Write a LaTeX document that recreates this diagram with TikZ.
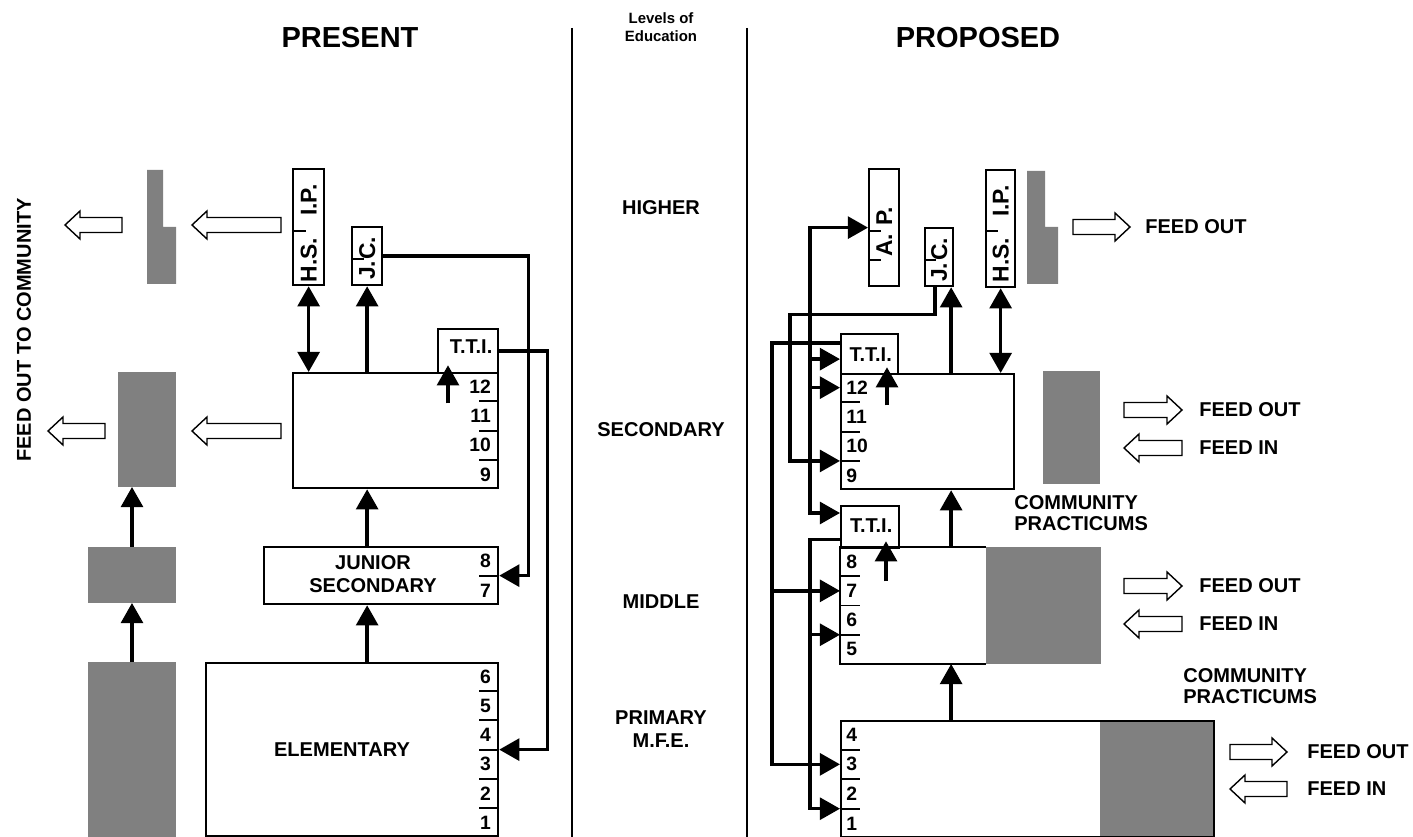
\documentclass[tikz,border=0pt]{standalone}
\usepackage{fontspec}
\setmainfont{Liberation Sans}
\usetikzlibrary{arrows.meta,positioning,calc}
\tikzset{
  headline/.style={font=\bfseries\fontsize{16.5}{18}\selectfont,inner sep=0pt},
  smallhead/.style={font=\bfseries\fontsize{8.5}{10.2}\selectfont,align=center,inner sep=0pt},
  eduname/.style={font=\bfseries\fontsize{11.4}{13}\selectfont,align=center,inner sep=0pt},
  sidetext/.style={font=\bfseries\fontsize{11.4}{12}\selectfont,align=left,inner sep=0pt},
  unitbox/.style={draw,line width=1.3pt,inner sep=0pt,anchor=north west},
  halftone/.style={fill=black!50},
  shadebox/.style={halftone,inner sep=0pt,outer sep=0pt,anchor=north west},
  gradenum/.style={font=\bfseries\fontsize{11}{12}\selectfont,inner sep=0pt},
  gradetick/.style={line width=1.1pt},
  sidelabel/.style={font=\bfseries\fontsize{13}{14}\selectfont,rotate=90,inner sep=0pt},
  flow/.style={line width=1.9pt,-{Triangle[length=11.5pt,width=12.5pt]}},
  twoway/.style={line width=1.9pt,{Triangle[length=11.5pt,width=12.5pt]}-{Triangle[length=11.5pt,width=12.5pt]}},
  feedarrow/.style={draw,line width=0.8pt,fill=white},
  colrule/.style={line width=1.6pt}
}

\begin{document}
\begin{tikzpicture}[x=0.02cm,y=-0.02cm]
  \useasboundingbox (0,0) rectangle (1413,837);

  % headings and column rules
  \node[headline] (present) at (350,38) {PRESENT};
  \node[headline] (proposed) at (978,38) {PROPOSED};
  \node[smallhead] (levels) at (661,27) {Levels of\\Education};
  \draw[colrule] (572,28) -- (572,837);
  \draw[colrule] (747,28) -- (747,837);
  \node[eduname] (higher) at (661,208) {HIGHER};
  \node[eduname] (secondary) at (661,430) {SECONDARY};
  \node[eduname] (middle) at (661,602) {MIDDLE};
  \node[eduname] (primary) at (661,729) {PRIMARY\\M.F.E.};

  % ---- present ----
  \node[sidetext,rotate=90] (feedcomm) at (24,330) {FEED OUT TO COMMUNITY};
  \fill[halftone] (147,170) -- (163,170) -- (163,227) -- (176,227) -- (176,284) -- (147,284) -- cycle;
  \node[shadebox,minimum width=1.16cm,minimum height=2.3cm] (pshU) at (118,372) {};
  \node[shadebox,minimum width=1.76cm,minimum height=1.12cm] (pshM) at (88,547) {};
  \node[shadebox,minimum width=1.76cm,minimum height=3.5cm] (pshB) at (88,662) {};
  \draw[flow] (pshB.north) -- (pshM.south);
  \draw[flow] (pshM.north) -- (pshM.north |- pshU.south);

  \node[unitbox,minimum width=0.62cm,minimum height=2.32cm] (phsip) at (292,168) {};
  \node[unitbox,minimum width=0.6cm,minimum height=1.16cm] (pjc) at (351,226) {};
  \node[unitbox,minimum width=1.2cm,minimum height=0.88cm] (ptti) at (437,328) {};
  \node[unitbox,minimum width=4.1cm,minimum height=2.3cm] (psec) at (292,372) {};
  \node[unitbox,minimum width=4.68cm,minimum height=1.14cm] (pjun) at (263,546) {};
  \node[unitbox,minimum width=5.84cm,minimum height=3.46cm] (pele) at (205,662) {};

  \node[sidelabel] (phsipH) at ($(phsip.south)+(0,-26)$) {H.S.};
  \node[sidelabel] (phsipI) at ($(phsip.south)+(0,-86)$) {I.P.};
  \draw[gradetick] ($(phsip.south west)+(0,-55)$) -- +(14,0);
  \node[sidelabel] (pjcJ) at ($(pjc.south)+(0,-16)$) {J.};
  \node[sidelabel] (pjcC) at ($(pjc.south)+(0,-38)$) {C.};
  \draw[gradetick] ($(pjc.south west)+(0,-27)$) -- +(13,0);
  \node[sidetext] (pttiname) at ($(ptti.center)+(3,-5)$) {T.T.I.};
  \node[eduname] (pjunname) at (373,574) {JUNIOR\\SECONDARY};
  \node[eduname] (pelename) at (342,750) {ELEMENTARY};

  \foreach \g [count=\i] in {12,11,10,9}
    \node[gradenum,anchor=east] (psec\g) at ($(psec.north east)!{(\i-0.5)/4}!(psec.south east)+(-8,0)$) {\g};
  \foreach \i in {1,2,3}
    \draw[gradetick] ($(psec.north east)!{\i/4}!(psec.south east)$) -- +(-20,0);
  \foreach \g [count=\i] in {8,7}
    \node[gradenum,anchor=east] (pjun\g) at ($(pjun.north east)!{(\i-0.5)/2}!(pjun.south east)+(-8,0)$) {\g};
  \draw[gradetick] ($(pjun.north east)!0.5!(pjun.south east)$) -- +(-20,0);
  \foreach \g [count=\i] in {6,5,4,3,2,1}
    \node[gradenum,anchor=east] (pele\g) at ($(pele.north east)!{(\i-0.5)/6}!(pele.south east)+(-8,0)$) {\g};
  \foreach \i in {1,...,5}
    \draw[gradetick] ($(pele.north east)!{\i/6}!(pele.south east)$) -- +(-20,0);

  \coordinate (pj87) at ($(pjun.north east)!0.5!(pjun.south east)$);
  \coordinate (pe43) at ($(pele.north east)!0.5!(pele.south east)$);
  \draw[twoway] (phsip.south) -- (phsip.south |- psec.north);
  \draw[flow] (pjc.south |- psec.north) -- (pjc.south);
  \draw[flow] (pjc.east) -| ($(pj87)+(29,0)$) -- (pj87);
  \draw[flow] (ptti.east) -| ($(pe43)+(48,0)$) -- (pe43);
  \draw[flow] ($(ptti.south west)+(11,29)$) -- ($(ptti.south west)+(11,-9)$);
  \draw[flow] (pjun.north -| pjc.south) -- (psec.south -| pjc.south);
  \draw[flow] (pele.north -| pjc.south) -- (pjun.south -| pjc.south);

  % ---- proposed ----
  \fill[halftone] (1027,171) -- (1045,171) -- (1045,227) -- (1058,227) -- (1058,284) -- (1027,284) -- cycle;
  \node[shadebox,minimum width=1.14cm,minimum height=2.26cm] (shS) at (1043,371) {};
  \node[shadebox,minimum width=2.3cm,minimum height=2.34cm] (shM) at (986,547) {};
  \node[shadebox,minimum width=2.26cm,minimum height=2.32cm] (shP) at (1100,720) {};

  \node[unitbox,minimum width=0.6cm,minimum height=2.34cm] (ap) at (868,168) {};
  \node[unitbox,minimum width=0.56cm,minimum height=1.16cm] (jc) at (924,227) {};
  \node[unitbox,minimum width=0.58cm,minimum height=2.34cm] (hsip) at (985,169) {};
  \node[unitbox,minimum width=1.14cm,minimum height=0.8cm] (tti1) at (840,333) {};
  \node[unitbox,minimum width=3.46cm,minimum height=2.3cm] (sec) at (840,373) {};
  \node[unitbox,minimum width=1.16cm,minimum height=0.84cm] (tti2) at (840,505) {};
  \node[unitbox,draw=none,outer sep=0pt,minimum width=2.92cm,minimum height=2.34cm] (mid) at (840,547) {};
  \draw[line width=1.3pt] (mid.north east) -- (mid.north west) -- (mid.south west) -- (mid.south east);
  \node[unitbox,fill=none,minimum width=7.46cm,minimum height=2.32cm] (prim) at (840,720) {};

  \node[sidelabel] (apP) at ($(ap.south)+(0,-71)$) {P.};
  \node[sidelabel] (apA) at ($(ap.south)+(0,-42)$) {A.};
  \draw[gradetick] ($(ap.south west)+(0,-56)$) -- +(13,0);
  \draw[gradetick] ($(ap.south west)+(0,-27)$) -- +(13,0);
  \node[sidelabel] (jcJ) at ($(jc.south)+(0,-15)$) {J.};
  \node[sidelabel] (jcC) at ($(jc.south)+(0,-38)$) {C.};
  \draw[gradetick] ($(jc.south west)+(0,-27)$) -- +(12,0);
  \node[sidelabel] (hsipH) at ($(hsip.south)+(0,-28)$) {H.S.};
  \node[sidelabel] (hsipI) at ($(hsip.south)+(0,-87)$) {I.P.};
  \draw[gradetick] ($(hsip.south west)+(0,-57)$) -- +(13,0);
  \node[sidetext] (tti1name) at ($(tti1.center)+(1,0)$) {T.T.I.};
  \node[sidetext] (tti2name) at ($(tti2.center)+(1,-2)$) {T.T.I.};

  \foreach \g [count=\i] in {12,11,10,9}
    \node[gradenum,anchor=west] (sec\g) at ($(sec.north west)!{(\i-0.5)/4}!(sec.south west)+(6,0)$) {\g};
  \foreach \g [count=\i] in {8,7,6,5}
    \node[gradenum,anchor=west] (mid\g) at ($(mid.north west)!{(\i-0.5)/4}!(mid.south west)+(6,0)$) {\g};
  \foreach \g [count=\i] in {4,3,2,1}
    \node[gradenum,anchor=west] (prim\g) at ($(prim.north west)!{(\i-0.5)/4}!(prim.south west)+(6,0)$) {\g};
  \foreach \b in {sec,mid,prim}
    \foreach \i in {1,2,3}
      \draw[gradetick] ($(\b.north west)!{\i/4}!(\b.south west)$) -- +(20,0);

  \coordinate (spine) at ($(jc.south)+(12,0)$);
  \coordinate (busA) at (772,0);
  \coordinate (busB) at (790,0);
  \coordinate (busC) at (810,0);
  \coordinate (tti1in) at ($(tti1.west)+(0,5)$);
  \coordinate (tti2in) at ($(tti2.north west)+(0,8)$);
  \coordinate (s910) at ($(sec.north west)!0.75!(sec.south west)$);
  \coordinate (m7) at ($(mid.north west)!0.375!(mid.south west)$);
  \coordinate (m65) at ($(mid.north west)!0.75!(mid.south west)$);
  \coordinate (p3) at ($(prim.north west)!0.375!(prim.south west)$);
  \coordinate (p21) at ($(prim.north west)!0.75!(prim.south west)$);

  \draw[twoway] (hsip.south) -- (hsip.south |- sec.north);
  \draw[flow] (sec.north -| spine) -- (jc.south -| spine);
  \draw[flow] (mid.north -| spine) -- (sec.south -| spine);
  \draw[flow] (prim.north -| spine) -- (mid.south -| spine);
  \draw[flow] ($(tti1.south west)+(47,30)$) -- ($(tti1.south west)+(47,-8)$);
  \draw[flow] ($(tti2.south west)+(46,32)$) -- ($(tti2.south west)+(46,-8)$);

  \draw[twoway] (tti2in) -| (busC |- ap.west) -- (ap.west);
  \draw[flow] (busC |- tti1in) -- (tti1in);
  \draw[flow] (busC |- sec12) -- (sec.west |- sec12);
  \draw[flow] ($(jc.south)+(-4,0)$) -- ++(0,27) -| (busB |- s910) -- (s910);
  \draw[flow] ($(tti1.north west)+(0,10)$) -| (busA |- p3) -- (p3);
  \draw[flow] (busA |- m7) -- (m7);
  \draw[flow] ($(tti2.south west)+(0,-10)$) -| (busC |- p21) -- (p21);
  \draw[flow] (busC |- m65) -- (m65);

  % feed arrows
  \foreach \t/\e/\y in {65/122/225,192/281/225,48/105/431,192/281/431,
      1130/1073/227,1182/1124/410,1124/1182/448,1182/1124/586,1124/1182/624,
      1287/1230/752,1230/1287/789}{
    \pgfmathsetmacro\hb{\t+(\e>\t ? 15 : -15)}
    \draw[feedarrow] (\e,\y-7.5) -- (\hb,\y-7.5) -- (\hb,\y-14) -- (\t,\y)
      -- (\hb,\y+14) -- (\hb,\y+7.5) -- (\e,\y+7.5) -- cycle;
  }
  \foreach \x/\y/\s [count=\k] in {1145/227/FEED OUT,1199/410/FEED OUT,1199/448/FEED IN,
      1199/586/FEED OUT,1199/624/FEED IN,1307/752/FEED OUT,1307/789/FEED IN}
    \node[sidetext,anchor=west] (feed\k) at (\x,\y) {\s};
  \node[sidetext,anchor=west] (practA) at (1014,513) {COMMUNITY\\PRACTICUMS};
  \node[sidetext,anchor=west] (practB) at (1183,686) {COMMUNITY\\PRACTICUMS};
\end{tikzpicture}
\end{document}
